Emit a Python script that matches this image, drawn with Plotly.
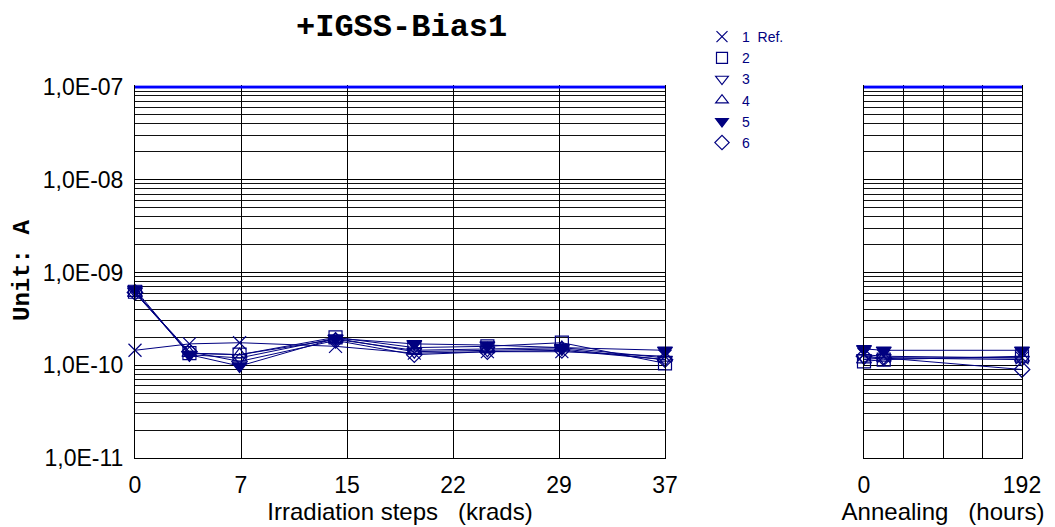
import plotly.graph_objects as go

# ---------------- data ----------------
irr_x = [0, 3.8, 7.3, 14.0, 19.5, 24.6, 29.8, 37]          # krads
ann_x = [0, 24, 192]                                        # hours
series_names = ["1\u00a0\u00a0Ref.", "2", "3", "4", "5", "6"]
irr_vals = [
    [1.45e-10, 1.70e-10, 1.75e-10, 1.60e-10, 1.35e-10, 1.40e-10, 1.40e-10, 1.25e-10],
    [6.20e-10, 1.35e-10, 1.30e-10, 2.00e-10, 1.55e-10, 1.60e-10, 1.75e-10, 1.05e-10],
    [6.30e-10, 1.30e-10, 1.20e-10, 1.95e-10, 1.40e-10, 1.45e-10, 1.50e-10, 1.15e-10],
    [6.00e-10, 1.35e-10, 1.30e-10, 1.90e-10, 1.45e-10, 1.50e-10, 1.55e-10, 1.20e-10],
    [6.60e-10, 1.30e-10, 0.98e-10, 1.95e-10, 1.70e-10, 1.65e-10, 1.55e-10, 1.45e-10],
    [6.10e-10, 1.40e-10, 1.10e-10, 1.85e-10, 1.30e-10, 1.40e-10, 1.45e-10, 1.15e-10],
]
ann_vals = [
    [1.30e-10, 1.25e-10, 1.20e-10],
    [1.10e-10, 1.15e-10, 1.25e-10],
    [1.20e-10, 1.20e-10, 1.15e-10],
    [1.15e-10, 1.20e-10, 1.20e-10],
    [1.50e-10, 1.45e-10, 1.45e-10],
    [1.25e-10, 1.20e-10, 0.90e-10],
]
limit_value = 1e-7
irr_tickvals = [0, 7.4, 14.8, 22.2, 29.6, 37]
irr_ticktext = ["0", "7", "15", "22", "29", "37"]
ann_tickvals = [0, 48, 96, 144, 192]
ann_ticktext = ["0", "", "", "", "192"]
y_tickvals = [1e-11, 1e-10, 1e-9, 1e-8, 1e-7]
y_ticktext = ["1,0E-11", "1,0E-10", "1,0E-09", "1,0E-08", "1,0E-07"]

# ---------------- styles ----------------
NAVY = "#000080"
symbols = ["x-thin-open", "square-open", "triangle-down-open", "triangle-up-open",
           "triangle-down", "diamond-open"]
msizes = [13, 13, 13, 13, 13, 12]

W, H = 1055, 527
def px_x(p): return p / W
def px_y(p): return 1 - p / H

SANS = "Liberation Sans, Arial, sans-serif"
MONO = "Liberation Mono, Courier New, monospace"

fig = go.Figure()

for i, name in enumerate(series_names):
    mk = dict(symbol=symbols[i], size=msizes[i], color=NAVY,
              line=dict(color=NAVY, width=1.2))
    fig.add_trace(go.Scatter(x=irr_x, y=irr_vals[i], mode="lines+markers",
                             line=dict(color=NAVY, width=1), marker=mk,
                             showlegend=False, cliponaxis=False,
                             xaxis="x", yaxis="y"))
    fig.add_trace(go.Scatter(x=ann_x, y=ann_vals[i], mode="lines+markers",
                             line=dict(color=NAVY, width=1), marker=mk,
                             showlegend=False, cliponaxis=False,
                             xaxis="x2", yaxis="y2"))
    # legend-only entry (marker only)
    lmk = dict(mk, size=11)
    fig.add_trace(go.Scatter(x=[None], y=[None], mode="markers", name=name,
                             marker=lmk, xaxis="x", yaxis="y"))

# limit lines
for xs, xa, ya in [(irr_x, "x", "y"), (ann_x, "x2", "y2")]:
    fig.add_trace(go.Scatter(x=[xs[0], xs[-1]], y=[limit_value, limit_value],
                             mode="lines", line=dict(color="#0000ff", width=3),
                             showlegend=False, cliponaxis=False, xaxis=xa, yaxis=ya))

minor_vals = [m * 10.0 ** e for e in range(-11, -7) for m in range(2, 10)]
# small headroom above the 1e-7 limit so the thick limit line is not clipped
y_top = -6.98
DECADE_PX = (458 - 87) / 4.0
ydom = [px_y(458), px_y(87 - (y_top + 7) * DECADE_PX)]
tickfont = dict(family=SANS, size=23, color="black")

yaxis_common = dict(type="log", range=[-11, y_top], domain=ydom, automargin=False,
                    tickvals=y_tickvals, showgrid=True, gridcolor="black", gridwidth=1,
                    minor=dict(tickvals=minor_vals, showgrid=True, gridcolor="#111111",
                               gridwidth=1, ticks=""),
                    showline=True, linecolor="black", linewidth=1, mirror=True,
                    ticks="", zeroline=False, tickfont=tickfont, ticklabelstandoff=6)

xaxis_common = dict(showgrid=True, gridcolor="black", gridwidth=1, zeroline=False,
                    showline=True, linecolor="black", linewidth=1, automargin=False,
                    ticks="", tickfont=tickfont, ticklabelstandoff=6)

fig.update_layout(
    template="none",
    width=W, height=H,
    margin=dict(l=0, r=0, t=0, b=0, pad=0),
    paper_bgcolor="white", plot_bgcolor="white",
    font=dict(family=SANS, color="black"),
    xaxis=dict(**xaxis_common, domain=[px_x(135), px_x(665)], range=[0, 37],
               tickvals=irr_tickvals, ticktext=irr_ticktext, anchor="y",
               title=dict(text="Irradiation steps\u00a0\u00a0\u00a0(krads)",
                          font=dict(family=SANS, size=24, color="black"), standoff=4)),
    xaxis2=dict(**xaxis_common, domain=[px_x(864), px_x(1022)], range=[0, 192],
                tickvals=ann_tickvals, ticktext=ann_ticktext, anchor="y2",
                title=dict(text="Annealing\u00a0\u00a0\u00a0(hours)",
                           font=dict(family=SANS, size=24, color="black"), standoff=4)),
    yaxis=dict(**yaxis_common, ticktext=y_ticktext, anchor="x"),
    yaxis2=dict(**yaxis_common, ticktext=y_ticktext, showticklabels=False, anchor="x2"),
    legend=dict(x=px_x(702), y=px_y(21), xanchor="left", yanchor="top",
                bgcolor="rgba(0,0,0,0)", borderwidth=0,
                font=dict(family=SANS, size=14, color=NAVY),
                tracegroupgap=0, itemwidth=30),
    showlegend=True,
)

fig.add_annotation(text="<b>+IGSS-Bias1</b>", x=px_x(401), y=px_y(28),
                   xref="paper", yref="paper", showarrow=False,
                   xanchor="center", yanchor="middle",
                   font=dict(family=MONO, size=32, color="black"))
fig.add_annotation(text="<b>Unit: A</b>", x=px_x(22), y=px_y(271),
                   xref="paper", yref="paper", showarrow=False, textangle=-90,
                   xanchor="center", yanchor="middle",
                   font=dict(family=MONO, size=24, color="black"))

fig.write_html("out.html", config={"displayModeBar": False},
               post_script="document.body.style.margin='0';")
